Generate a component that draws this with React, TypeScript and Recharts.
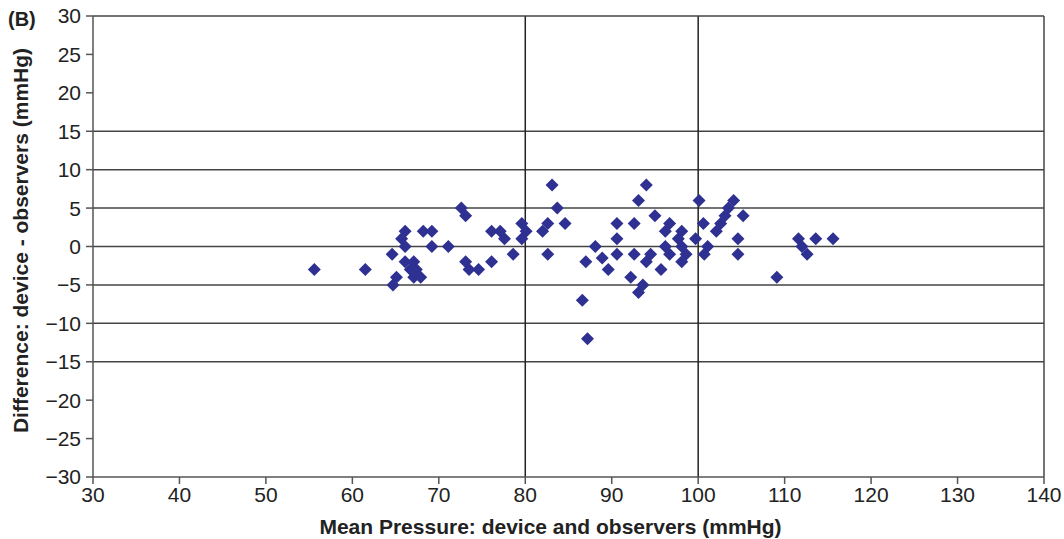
import { ScatterChart, Scatter, XAxis, YAxis, ReferenceLine } from 'recharts';

// Mean pressure (x) and difference (y)
const meanPressure = [
  55.6, 61.5, 64.6, 65.1, 64.7, 66.1, 65.7, 66.1, 66.1, 67.1,
  66.7, 67.4, 67.1, 67.9, 68.2, 69.2, 69.2, 71.1, 72.6, 73.1,
  73.1, 73.5, 74.6, 76.1, 76.1, 77.1, 77.6, 78.6, 79.6, 80.1,
  79.6, 83.1, 83.7, 84.6, 82.6, 82.0, 82.6, 86.6, 87.2, 87.0,
  88.1, 88.9, 89.6, 90.6, 90.6, 90.6, 92.6, 92.6, 93.1, 94.0,
  92.2, 93.1, 93.6, 94.0, 94.5, 95.0, 95.7, 96.2, 96.7, 96.2,
  96.7, 97.7, 98.1, 98.1, 98.6, 98.1, 99.7, 100.1, 100.6, 101.1,
  100.7, 102.1, 102.6, 103.1, 103.5, 104.1, 105.2, 104.6, 104.6, 109.1,
  111.6, 112.0, 112.6, 113.6, 115.6,
];
const difference = [
  -3, -3, -1, -4, -5, 2, 1, 0, -2, -2,
  -3, -3, -4, -4, 2, 2, 0, 0, 5, 4,
  -2, -3, -3, -2, 2, 2, 1, -1, 3, 2,
  1, 8, 5, 3, 3, 2, -1, -7, -12, -2,
  0, -1.5, -3, 3, 1, -1, 3, -1, 6, 8,
  -4, -6, -5, -2, -1, 4, -3, 2, 3, 0,
  -1, 1, 2, 0, -1, -2, 1, 6, 3, 0,
  -1, 2, 3, 4, 5, 6, 4, 1, -1, -4,
  1, 0, -1, 1, 1,
];

const xTicks = [30, 40, 50, 60, 70, 80, 90, 100, 110, 120, 130, 140];
const yTicks = [-30, -25, -20, -15, -10, -5, 0, 5, 10, 15, 20, 25, 30];
const hLines = [-15, -10, -5, 0, 5, 10, 15];
const vLines = [80, 100];

const data = meanPressure.map((x, i) => ({ x, y: difference[i] }));

const fmt = (v: number) => (v < 0 ? `\u2212${-v}` : `${v}`);

const Diamond = (props: any) => {
  const { cx, cy } = props;
  const r = 6.5;
  return (
    <polygon
      points={`${cx},${cy - r} ${cx + r},${cy} ${cx},${cy + r} ${cx - r},${cy}`}
      fill="#2e3192"
    />
  );
};

const tickStyle = { fill: '#222', fontSize: 21, fontFamily: 'Liberation Sans, Arial, sans-serif' };
const titleStyle = { fill: '#222', fontSize: 21, fontWeight: 'bold', fontFamily: 'Liberation Sans, Arial, sans-serif' };

export default function App() {
  return (
    <div style={{ position: 'absolute', left: 0, top: 0, width: 1064, height: 539, background: '#fff' }}>
      <div
        style={{
          position: 'absolute', left: 8, top: 8, fontSize: 20, fontWeight: 'bold',
          fontFamily: 'Liberation Sans, Arial, sans-serif', color: '#222',
        }}
      >
        (B)
      </div>
      <ScatterChart width={1064} height={539} margin={{ top: 16, right: 20, bottom: 0, left: 0 }}>
        <XAxis
          type="number"
          dataKey="x"
          domain={[30, 140]}
          ticks={xTicks}
          interval={0}
          height={62}
          tickSize={7}
          tickMargin={3}
          stroke="#555"
          strokeWidth={1.5}
          tick={tickStyle}
          label={{ value: 'Mean Pressure: device and observers (mmHg)', position: 'insideBottom', offset: 5, dx: -18, style: titleStyle }}
        />
        <YAxis
          type="number"
          dataKey="y"
          domain={[-30, 30]}
          ticks={yTicks}
          interval={0}
          width={93}
          tickSize={7}
          tickMargin={5}
          stroke="#555"
          strokeWidth={1.5}
          tick={tickStyle}
          tickFormatter={fmt}
          label={{ value: 'Difference: device - observers (mmHg)', angle: -90, position: 'center', dx: -26, dy: -6, style: titleStyle }}
        />
        {hLines.map((v) => (
          <ReferenceLine key={`h${v}`} y={v} stroke="#444" strokeWidth={1.5} />
        ))}
        {vLines.map((v) => (
          <ReferenceLine key={`v${v}`} x={v} stroke="#222" strokeWidth={1.5} />
        ))}
        <ReferenceLine y={30} stroke="#444" strokeWidth={1.5} />
        <ReferenceLine x={140} stroke="#444" strokeWidth={1.5} />
        <Scatter data={data} shape={Diamond} isAnimationActive={false} />
      </ScatterChart>
    </div>
  );
}
